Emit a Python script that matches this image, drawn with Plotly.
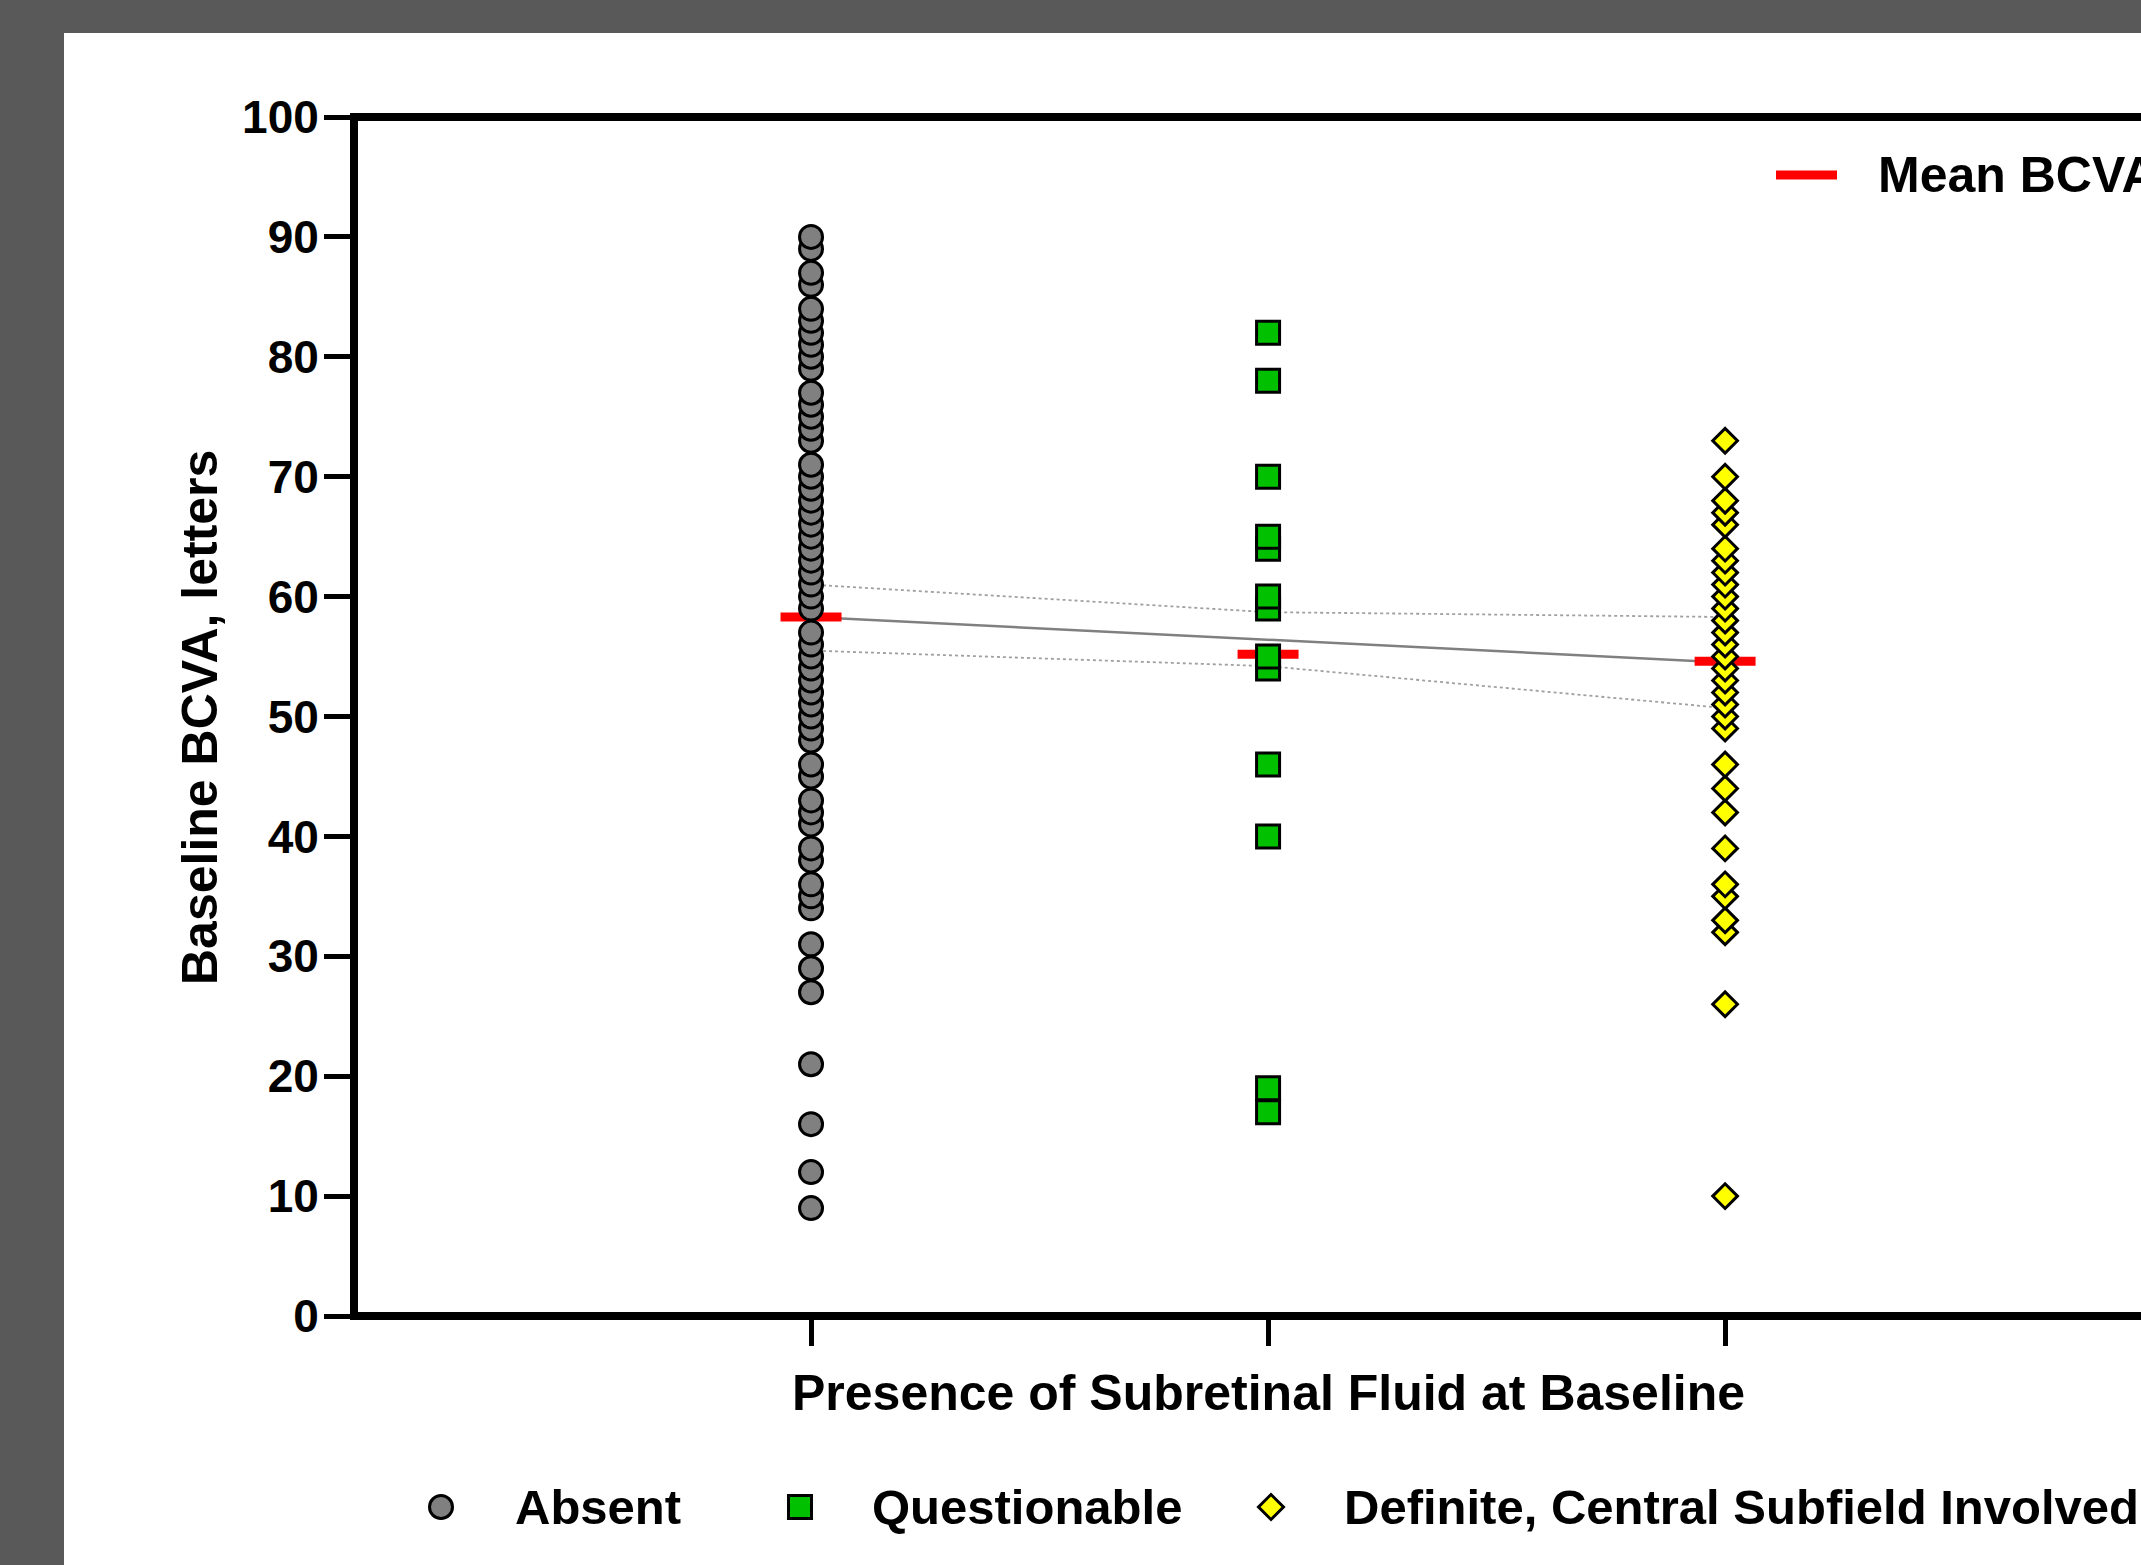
import plotly.graph_objects as go

# ---------------- data ----------------
categories = ["Absent", "Questionable", "Definite, Central Subfield Involved"]
absent = [90, 89, 87, 86, 84, 83, 82, 81, 80, 79, 77, 76, 75, 74, 73, 71, 70, 69,
          68, 67, 66, 65, 64, 63, 62, 61, 60, 59, 57, 56, 55, 54, 53, 52, 51, 50,
          49, 48, 46, 45, 43, 42, 41, 39, 38, 36, 35, 34, 31, 29, 27, 21, 16, 12, 9]
questionable = [82, 78, 70, 65, 64, 60, 59, 55, 54, 46, 40, 19, 17]
definite = [73, 70, 68, 67, 66, 64, 63, 62, 61, 60, 59, 58, 57, 56, 55, 54, 53,
            52, 51, 50, 49, 46, 44, 42, 39, 36, 35, 33, 32, 26, 10]
mean_bcva = [58.3, 55.2, 54.6]
trend_line = [58.3, 56.4, 54.5]
ci_upper = [61.0, 58.7, 58.3]
ci_lower = [55.5, 54.2, 50.7]
y_ticks = list(range(0, 101, 10))

# ---------------- styling ----------------
W, H = 2141, 1565
L, R, T, B = 354, 0, 117, 249
PW, PH = W - L - R, H - T - B
FONT = "Liberation Sans, Arial, Helvetica, sans-serif"
marker_colors = ["#808080", "#00c000", "#ffff00"]
marker_symbols = ["circle", "square", "diamond"]
marker_sizes = [23, 23, 19]


def px_x(px):
    return (px - L) / PW


def px_y(py):
    return (H - B - py) / PH


fig = go.Figure()

# regression line and dotted confidence lines
xs = list(range(len(categories)))
fig.add_trace(go.Scatter(x=xs, y=ci_upper, mode="lines",
                         line=dict(color="#a0a0a0", width=1.8, dash="dot"),
                         showlegend=False, hoverinfo="skip"))
fig.add_trace(go.Scatter(x=xs, y=ci_lower, mode="lines",
                         line=dict(color="#a0a0a0", width=1.8, dash="dot"),
                         showlegend=False, hoverinfo="skip"))
fig.add_trace(go.Scatter(x=xs, y=trend_line, mode="lines",
                         line=dict(color="#808080", width=2.5),
                         showlegend=False, hoverinfo="skip"))

# mean bars
half = 0.0667
for i, m in enumerate(mean_bcva):
    fig.add_trace(go.Scatter(x=[i - half, i + half], y=[m, m], mode="lines",
                             line=dict(color="#ff0000", width=9),
                             showlegend=False, hoverinfo="skip"))

# points (ascending so higher values drawn on top)
for i, vals in enumerate([absent, questionable, definite]):
    v = sorted(vals)
    fig.add_trace(go.Scatter(
        x=[i] * len(v), y=v, mode="markers", name=categories[i],
        marker=dict(symbol=marker_symbols[i], size=marker_sizes[i],
                    color=marker_colors[i], line=dict(color="black", width=3)),
        showlegend=False))

shapes = []
# white panel
shapes.append(dict(type="rect", xref="paper", yref="paper",
                   x0=px_x(64), x1=px_x(W + 10), y0=px_y(H + 10), y1=px_y(33),
                   fillcolor="white", line=dict(width=0), layer="below"))
# frame lines
lw = 8
shapes.append(dict(type="line", xref="paper", yref="paper", x0=0, x1=0,
                   y0=px_y(H - B + 4), y1=px_y(T - 4), line=dict(color="black", width=lw)))
shapes.append(dict(type="line", xref="paper", yref="paper", x0=px_x(L - 4), x1=1.01,
                   y0=0, y1=0, line=dict(color="black", width=lw)))
shapes.append(dict(type="line", xref="paper", yref="paper", x0=px_x(L - 4), x1=1.01,
                   y0=1, y1=1, line=dict(color="black", width=lw)))

# bottom legend
leg_y = 1507
sym_x = [441, 800, 1271]
txt_x = [513, 870, 1342]
for i in range(3):
    ax_ = px_x(sym_x[i])
    ay_ = px_y(leg_y)
    common = dict(xref="paper", yref="paper", xsizemode="pixel", ysizemode="pixel",
                  xanchor=ax_, yanchor=ay_, fillcolor=marker_colors[i],
                  line=dict(color="black", width=3))
    if marker_symbols[i] == "circle":
        shapes.append(dict(type="circle", x0=-11.5, x1=11.5, y0=-11.5, y1=11.5, **common))
    elif marker_symbols[i] == "square":
        shapes.append(dict(type="rect", x0=-11.5, x1=11.5, y0=-11.5, y1=11.5, **common))
    else:
        shapes.append(dict(type="path", path="M0,-12.5 L12.5,0 L0,12.5 L-12.5,0 Z", **common))

# mean legend line
shapes.append(dict(type="line", xref="paper", yref="paper",
                   x0=px_x(1776), x1=px_x(1837), y0=px_y(175), y1=px_y(175),
                   line=dict(color="#ff0000", width=9)))

annotations = []
for i in range(3):
    annotations.append(dict(text=categories[i], xref="paper", yref="paper",
                            x=px_x(txt_x[i]), y=px_y(leg_y), xanchor="left", yanchor="middle",
                            showarrow=False,
                            font=dict(family=FONT, size=49, color="black", weight="bold")))
annotations.append(dict(text="Mean BCVA", xref="paper", yref="paper",
                        x=px_x(1876), y=px_y(175), xanchor="left", yanchor="middle",
                        showarrow=False,
                        font=dict(family=FONT, size=50, color="black", weight="bold")))
annotations.append(dict(text="Presence of Subretinal Fluid at Baseline", xref="x", yref="paper",
                        x=1, y=px_y(1393), xanchor="center", yanchor="middle",
                        showarrow=False,
                        font=dict(family=FONT, size=50, color="black", weight="bold")))
annotations.append(dict(text="Baseline BCVA, letters", xref="paper", yref="paper",
                        x=px_x(200), y=px_y(718), xanchor="center", yanchor="middle",
                        textangle=-90, showarrow=False,
                        font=dict(family=FONT, size=50, color="black", weight="bold")))

fig.update_layout(
    width=W, height=H,
    margin=dict(l=L, r=R, t=T, b=B, pad=0),
    paper_bgcolor="#595959", plot_bgcolor="white",
    showlegend=False,
    shapes=shapes, annotations=annotations,
    xaxis=dict(range=[-1, 2.91], tickvals=xs, showticklabels=False,
               ticks="outside", ticklen=29, tickwidth=5, tickcolor="black",
               showgrid=False, zeroline=False, showline=False, fixedrange=True),
    yaxis=dict(range=[0, 100], tickvals=y_ticks, ticks="outside", ticklen=29,
               tickwidth=5, tickcolor="black", showgrid=False, zeroline=False,
               showline=False, ticklabelstandoff=-4,
               tickfont=dict(family=FONT, size=46, color="black", weight="bold")),
)

fig.write_html(
    "out.html",
    config={"displayModeBar": False},
    post_script="document.body.style.margin='0';document.body.style.overflow='hidden';",
)
